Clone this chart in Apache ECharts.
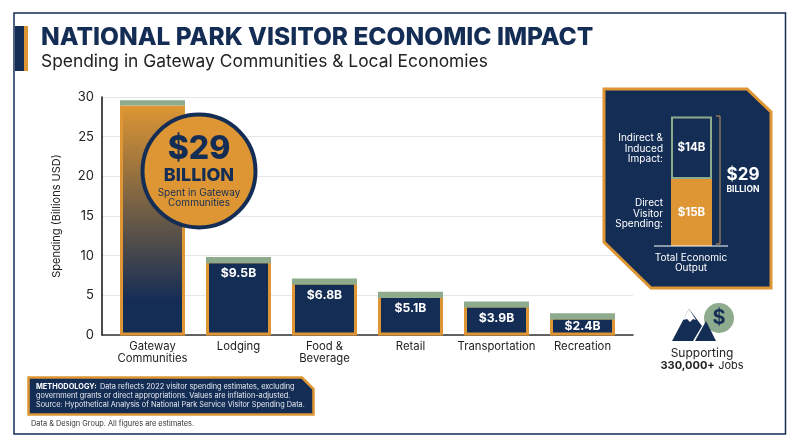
<!DOCTYPE html>
<html><head><meta charset="utf-8">
<style>html,body{margin:0;padding:0;background:#fff}#c{width:800px;height:447px}</style>
<script src="https://cdn.jsdelivr.net/npm/echarts@6/dist/echarts.min.js"></script>
</head><body><div id="c"></div>
<script>
const categories = ['Gateway\nCommunities','Lodging','Food &\nBeverage','Retail','Transportation','Recreation'];
const spending = [29, 9.5, 6.8, 5.1, 3.9, 2.4];
const capBase = [29, 9.12, 6.42, 4.72, 3.52, 2.02];
const capValues = [0.66, 0.78, 0.78, 0.78, 0.78, 0.78];
const barLabels = ['', '$9.5B', '$6.8B', '$5.1B', '$3.9B', '$2.4B'];
const yTicks = [0, 30, 5];
const outputCategory = ['Total Economic Output'];
const directSpending = [15];
const indirectImpact = [14];

const NAVY='#142d55', ORANGE='#dd9633', GREEN='#8fab8e', INK='#222';
const FONT='Inter';
const chart = echarts.init(document.getElementById('c'), null, {renderer:'canvas'});

const T=(x,y,text,size,o={})=>({type:'text',z:100,x,y,style:Object.assign({text,fontFamily:FONT,fontSize:size,fill:o.fill||INK,fontWeight:o.w||400,align:o.a||'left',verticalAlign:'middle',lineHeight:o.lh},o.extra||{})});

const graphic=[
 {type:'rect',z:1,shape:{x:14,y:13,width:771.5,height:421},style:{fill:'none',stroke:NAVY,lineWidth:1.5}},
 {type:'rect',z:2,shape:{x:15,y:26,width:9,height:45},style:{fill:NAVY}},
 {type:'rect',z:2,shape:{x:24,y:26,width:4,height:45},style:{fill:ORANGE}},
 T(41,38,'NATIONAL PARK VISITOR ECONOMIC IMPACT',24.5,{w:800,fill:NAVY}),
 T(41,62,'Spending in Gateway Communities & Local Economies',17.4,{fill:'#222'}),
 {type:'circle',z:100,shape:{cx:199,cy:171,r:56.5},style:{fill:ORANGE,stroke:NAVY,lineWidth:4}},
 T(199,149,'$29',32,{w:800,fill:NAVY,a:'center'}),
 T(199,176,'BILLION',18,{w:800,fill:NAVY,a:'center'}),
 T(199,193,'Spent in Gateway',10,{fill:NAVY,a:'center'}),
 T(199,203,'Communities',10,{fill:NAVY,a:'center'}),
 {type:'polygon',z:1,shape:{points:[[604,89],[747,89],[771,112],[771,288],[651,288],[604,242]]},style:{fill:NAVY,stroke:ORANGE,lineWidth:3}},
 T(663,138,'Indirect &',10,{fill:'#fff',a:'right'}),
 T(663,149,'Induced',10,{fill:'#fff',a:'right'}),
 T(663,159,'Impact:',10,{fill:'#fff',a:'right'}),
 T(663,203,'Direct',10,{fill:'#fff',a:'right'}),
 T(663,214,'Visitor',10,{fill:'#fff',a:'right'}),
 T(663,224,'Spending:',10,{fill:'#fff',a:'right'}),
 {type:'polyline',z:100,shape:{points:[[716,116],[720,116],[720,244],[716,244]]},style:{fill:'none',stroke:'#c99a5a',lineWidth:1}},
 {type:'line',z:100,shape:{x1:654,y1:246,x2:728,y2:246},style:{stroke:'#fff',lineWidth:1}},
 T(743,175,'$29',17,{w:700,fill:'#fff',a:'center'}),
 T(743,189,'BILLION',8.5,{w:700,fill:'#fff',a:'center'}),
 T(691,258,'Total Economic',10,{fill:'#fff',a:'center'}),
 T(691,268,'Output',10,{fill:'#fff',a:'center'}),
 {type:'circle',z:100,shape:{cx:719,cy:318,r:15},style:{fill:GREEN}},
 T(719,318,'$',20,{w:700,fill:NAVY,a:'center'}),
 {type:'polygon',z:101,shape:{points:[[689,309],[672,341],[693,341],[702,326]]},style:{fill:NAVY}},
 {type:'polygon',z:102,shape:{points:[[689,309],[683,320],[687,319],[690,322],[693,319],[696,320]]},style:{fill:'#fff'}},
 {type:'polygon',z:101,shape:{points:[[706,321],[695,341],[716,341]]},style:{fill:NAVY}},
 T(702,353,'Supporting',12,{a:'center',fill:'#222'}),
 {type:'text',z:100,x:702,y:366,style:{text:'{b|330,000+} {n|Jobs}',align:'center',verticalAlign:'middle',rich:{b:{fontFamily:FONT,fontSize:11,fontWeight:700,fill:'#222',color:'#222'},n:{fontFamily:FONT,fontSize:11,fill:'#222',color:'#222'}}}},
 {type:'polygon',z:100,shape:{points:[[28.5,377.5],[302,377.5],[313.5,389],[313.5,414.5],[28.5,414.5]]},style:{fill:NAVY,stroke:ORANGE,lineWidth:2.5}},
 {type:'text',z:101,x:36,y:387,style:{text:'{b|METHODOLOGY:} {n|Data reflects 2022 visitor spending estimates, excluding}',verticalAlign:'middle',rich:{b:{fontFamily:FONT,fontSize:7.35,fontWeight:700,color:'#fff',fill:'#fff'},n:{fontFamily:FONT,fontSize:7.35,color:'#e8ecf2',fill:'#e8ecf2'}}}},
 T(36,396,'government grants or direct appropriations. Values are inflation-adjusted.',7.35,{fill:'#e8ecf2'}),
 T(36,404.5,'Source: Hypothetical Analysis of National Park Service Visitor Spending Data.',7.35,{fill:'#e8ecf2'}),
 T(31,424,'Data & Design Group. All figures are estimates.',7.4,{fill:'#333'})
];

const bodyData = spending.map((v,i)=> {
  if(i===0) return {value:v,itemStyle:{color:new echarts.graphic.LinearGradient(0,0,0,1,[{offset:0,color:ORANGE},{offset:0.85,color:NAVY},{offset:1,color:NAVY}])}};
  if(i===5) return {value:v,label:{distance:4.2}};
  return v;
});

chart.setOption({
 animation:false,
 backgroundColor:'#fff',
 graphic:{elements:graphic},
 grid:[
  {left:102,right:167,top:97,height:238},
  {left:109.5,right:174.5,top:97.5,height:238},
  {left:671,top:116.5,width:41,height:129.5}
 ],
 xAxis:[
  {gridIndex:0,type:'value',min:0,max:1,axisTick:{show:false},axisLabel:{show:false},splitLine:{show:false},axisLine:{show:true,onZero:false,lineStyle:{color:'#333',width:1.5}}},
  {gridIndex:1,type:'category',data:categories,axisTick:{show:false},axisLine:{show:false},axisLabel:{interval:0,color:INK,fontFamily:FONT,fontSize:11.3,lineHeight:11.5,margin:5.5}},
  {gridIndex:2,type:'category',data:outputCategory,show:false}
 ],
 yAxis:[
  {gridIndex:0,type:'value',min:yTicks[0],max:yTicks[1],interval:yTicks[2],name:'Spending (Billions USD)',nameLocation:'middle',nameGap:40,nameRotate:90,nameTextStyle:{fontFamily:FONT,fontSize:11,color:INK},
   axisLine:{show:true,lineStyle:{color:'#111',width:1.5}},axisTick:{show:false},axisLabel:{color:INK,fontFamily:FONT,fontSize:13,margin:8},splitLine:{show:true,lineStyle:{color:'#e6e6e6',width:1}}},
  {gridIndex:1,type:'value',min:yTicks[0],max:yTicks[1],interval:yTicks[2],show:false,splitLine:{show:false}},
  {gridIndex:2,type:'value',min:0,max:29,show:false,splitLine:{show:false}}
 ],
 series:[
  {type:'bar',name:'Spending',xAxisIndex:1,yAxisIndex:1,stack:'a',barWidth:65,barGap:'-100%',data:bodyData,z:3,
   itemStyle:{color:NAVY,borderColor:ORANGE,borderWidth:3},
   label:{show:true,position:'insideTop',distance:7.5,color:'#fff',fontFamily:FONT,fontWeight:700,fontSize:12.2,formatter:p=>barLabels[p.dataIndex]}},
  {type:'bar',name:'CapBase',xAxisIndex:1,yAxisIndex:1,stack:'b',barWidth:65,barGap:'-100%',data:capBase,z:2,silent:true,
   itemStyle:{color:'rgba(0,0,0,0)'}},
  {type:'bar',name:'Cap',xAxisIndex:1,yAxisIndex:1,stack:'b',barWidth:65,barGap:'-100%',data:capValues,z:4,
   itemStyle:{color:GREEN}},
  {type:'bar',name:'Direct',xAxisIndex:2,yAxisIndex:2,stack:'c',barWidth:41,data:directSpending,z:3,
   itemStyle:{color:ORANGE},
   label:{show:true,position:'inside',color:'#fff',fontFamily:FONT,fontWeight:700,fontSize:11.5,formatter:'$15B'}},
  {type:'bar',name:'Indirect',xAxisIndex:2,yAxisIndex:2,stack:'c',barWidth:41,data:indirectImpact,z:3,
   itemStyle:{color:NAVY,borderColor:GREEN,borderWidth:2},
   label:{show:true,position:'inside',color:'#fff',fontFamily:FONT,fontWeight:700,fontSize:11.5,formatter:'$14B'}}
 ]
});
</script></body></html>
